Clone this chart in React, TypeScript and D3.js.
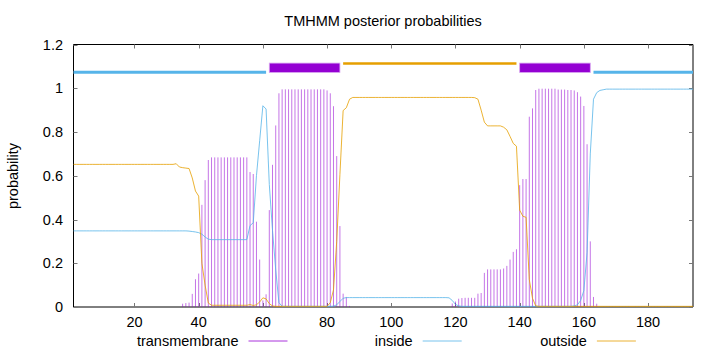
import React from 'react';
import * as d3 from 'd3';

// posterior probabilities per residue (1..194)
const tmProb = [
  0, 0, 0, 0, 0, 0, 0, 0, 0, 0,
  0, 0, 0, 0, 0, 0, 0, 0, 0, 0,
  0, 0, 0, 0, 0, 0, 0, 0, 0, 0,
  0, 0, 0, 0, 0.015, 0.018, 0.02, 0.06, 0.127, 0.153,
  0.467, 0.58, 0.672, 0.684, 0.684, 0.684, 0.684, 0.684, 0.684, 0.684,
  0.684, 0.684, 0.684, 0.684, 0.684, 0.617, 0.608, 0.39, 0.217, 0.03,
  0.058, 0.443, 0.65, 0.83, 0.977, 0.995, 0.995, 0.995, 0.995, 0.995,
  0.995, 0.995, 0.995, 0.995, 0.995, 0.995, 0.995, 0.995, 0.995, 0.99,
  0.977, 0.918, 0.69, 0.37, 0.061, 0.046, 0.005, 0, 0, 0,
  0, 0, 0, 0, 0, 0, 0, 0, 0, 0,
  0, 0, 0, 0, 0, 0, 0, 0, 0, 0,
  0, 0, 0, 0, 0, 0, 0, 0, 0.016, 0.025,
  0.038, 0.041, 0.042, 0.042, 0.042, 0.042, 0.061, 0.064, 0.156, 0.172,
  0.172, 0.172, 0.172, 0.172, 0.176, 0.188, 0.217, 0.252, 0.264, 0.557,
  0.585, 0.585, 0.87, 0.908, 0.992, 0.998, 0.998, 0.998, 0.998, 0.998,
  0.998, 0.994, 0.994, 0.994, 0.992, 0.992, 0.99, 0.982, 0.962, 0.919,
  0.744, 0.3, 0.046, 0.015, 0, 0, 0, 0, 0, 0,
  0, 0, 0, 0, 0, 0, 0, 0, 0, 0,
  0, 0, 0, 0, 0, 0, 0, 0, 0, 0,
  0, 0, 0, 0,
];

const insideProb = [
  0.348, 0.348, 0.348, 0.348, 0.348, 0.348, 0.348, 0.348, 0.348, 0.348,
  0.348, 0.348, 0.348, 0.348, 0.348, 0.348, 0.348, 0.348, 0.348, 0.348,
  0.348, 0.348, 0.348, 0.348, 0.348, 0.348, 0.348, 0.348, 0.348, 0.348,
  0.348, 0.348, 0.348, 0.348, 0.348, 0.348, 0.347, 0.345, 0.343, 0.34,
  0.333, 0.32, 0.31, 0.308, 0.308, 0.308, 0.308, 0.308, 0.308, 0.308,
  0.308, 0.308, 0.308, 0.308, 0.308, 0.372, 0.385, 0.6, 0.76, 0.92,
  0.905, 0.56, 0.35, 0.17, 0.02, 0.003, 0.003, 0.003, 0.003, 0.003,
  0.003, 0.003, 0.003, 0.003, 0.003, 0.003, 0.003, 0.003, 0.003, 0.003,
  0.003, 0.004, 0.01, 0.025, 0.04, 0.043, 0.043, 0.043, 0.043, 0.043,
  0.043, 0.043, 0.043, 0.043, 0.043, 0.043, 0.043, 0.043, 0.043, 0.043,
  0.043, 0.043, 0.043, 0.043, 0.043, 0.043, 0.043, 0.043, 0.043, 0.043,
  0.043, 0.043, 0.043, 0.043, 0.043, 0.043, 0.043, 0.042, 0.03, 0.012,
  0.005, 0.003, 0.003, 0.003, 0.003, 0.003, 0.003, 0.003, 0.003, 0.003,
  0.003, 0.003, 0.003, 0.003, 0.003, 0.003, 0.003, 0.003, 0.003, 0.003,
  0.003, 0.003, 0.003, 0.003, 0.003, 0.003, 0.003, 0.003, 0.003, 0.003,
  0.003, 0.003, 0.003, 0.003, 0.003, 0.003, 0.005, 0.01, 0.03, 0.075,
  0.25, 0.7, 0.95, 0.98, 0.99, 0.993, 0.996, 0.996, 0.996, 0.996,
  0.996, 0.996, 0.996, 0.996, 0.996, 0.996, 0.996, 0.996, 0.996, 0.996,
  0.996, 0.996, 0.996, 0.996, 0.996, 0.996, 0.996, 0.996, 0.996, 0.996,
  0.996, 0.996, 0.996, 0.996,
];

const outsideProb = [
  0.652, 0.652, 0.652, 0.652, 0.652, 0.652, 0.652, 0.652, 0.652, 0.652,
  0.652, 0.652, 0.652, 0.652, 0.652, 0.652, 0.652, 0.652, 0.652, 0.652,
  0.652, 0.652, 0.652, 0.652, 0.652, 0.652, 0.652, 0.652, 0.652, 0.652,
  0.652, 0.652, 0.655, 0.64, 0.637, 0.635, 0.633, 0.59, 0.53, 0.507,
  0.2, 0.1, 0.018, 0.008, 0.008, 0.008, 0.008, 0.008, 0.008, 0.008,
  0.008, 0.008, 0.008, 0.008, 0.008, 0.011, 0.007, 0.01, 0.023, 0.042,
  0.037, 0.015, 0.005, 0.003, 0.003, 0.003, 0.003, 0.003, 0.003, 0.003,
  0.003, 0.003, 0.003, 0.003, 0.003, 0.003, 0.003, 0.003, 0.003, 0.003,
  0.02, 0.078, 0.3, 0.605, 0.898, 0.911, 0.95, 0.958, 0.958, 0.958,
  0.958, 0.958, 0.958, 0.958, 0.958, 0.958, 0.958, 0.958, 0.958, 0.958,
  0.958, 0.958, 0.958, 0.958, 0.958, 0.958, 0.958, 0.958, 0.958, 0.958,
  0.958, 0.958, 0.958, 0.958, 0.958, 0.958, 0.958, 0.958, 0.958, 0.958,
  0.958, 0.958, 0.958, 0.958, 0.958, 0.957, 0.95, 0.9, 0.845, 0.828,
  0.828, 0.828, 0.828, 0.828, 0.822, 0.81, 0.78, 0.748, 0.735, 0.443,
  0.415, 0.41, 0.125, 0.04, 0.005, 0.003, 0.003, 0.003, 0.003, 0.003,
  0.003, 0.003, 0.003, 0.003, 0.003, 0.003, 0.003, 0.003, 0.003, 0.003,
  0.003, 0.003, 0.003, 0.003, 0.003, 0.003, 0.003, 0.003, 0.003, 0.003,
  0.003, 0.003, 0.003, 0.003, 0.003, 0.003, 0.003, 0.003, 0.003, 0.003,
  0.003, 0.003, 0.003, 0.003, 0.003, 0.003, 0.003, 0.003, 0.003, 0.003,
  0.003, 0.003, 0.003, 0.003,
];

// predicted topology, drawn as the bars above 1
const topology = [
  { kind: 'inside', start: 1, end: 61 },
  { kind: 'TMhelix', start: 62, end: 84 },
  { kind: 'outside', start: 85, end: 139 },
  { kind: 'TMhelix', start: 140, end: 162 },
  { kind: 'inside', start: 163, end: 194 },
];

const xTicks = [20, 40, 60, 80, 100, 120, 140, 160, 180];
const yTicks = [0, 0.2, 0.4, 0.6, 0.8, 1, 1.2];
const legendLabels = ['transmembrane', 'inside', 'outside'];

const TM_COLOR = '#9400d3';
const IN_COLOR = '#56b4e9';
const OUT_COLOR = '#e69f00';
const FONT = '"Liberation Sans", Arial, sans-serif';

const App = () => {
  const width = 720;
  const height = 352;
  const left = 73.5, right = 693, top = 44.5, bottom = 307;

  const x = d3.scaleLinear().domain([1, tmProb.length]).range([left, right]);
  const y = d3.scaleLinear().domain([0, 1.2]).range([bottom, top]);

  const line = d3.line<number>()
    .x((d, i) => x(i + 1))
    .y(d => y(d));

  const legendColors = [TM_COLOR, IN_COLOR, OUT_COLOR];

  return (
    <svg
      width={width}
      height={height}
      style={{ position: 'absolute', left: 0, top: 0, background: '#fff' }}
      fontFamily={FONT}
      fontSize={14.5}
    >
      <text x={383} y={26} textAnchor="middle" fill="#000">TMHMM posterior probabilities</text>

      {/* frame */}
      <line x1={left} x2={left} y1={top} y2={bottom} stroke="#000" />
      <line x1={left} x2={right} y1={top} y2={top} stroke="#000" />
      <line x1={right} x2={right} y1={top} y2={bottom} stroke="#000" />
      <line x1={left} x2={right} y1={bottom} y2={bottom} stroke="#000" />

      {/* ticks, mirrored */}
      {xTicks.map(t => (
        <g key={'x' + t}>
          <line x1={Math.round(x(t)) + 0.5} x2={Math.round(x(t)) + 0.5} y1={bottom} y2={bottom - 4} stroke="#777" />
          <line x1={Math.round(x(t)) + 0.5} x2={Math.round(x(t)) + 0.5} y1={top} y2={top + 4} stroke="#777" />
          <text x={x(t)} y={327} textAnchor="middle" fill="#000">{t}</text>
        </g>
      ))}
      {yTicks.map(t => (
        <g key={'y' + t}>
          <line x1={left} x2={left + 4} y1={Math.round(y(t)) + 0.5} y2={Math.round(y(t)) + 0.5} stroke="#777" />
          <line x1={right} x2={right - 4} y1={Math.round(y(t)) + 0.5} y2={Math.round(y(t)) + 0.5} stroke="#777" />
          <text x={63} y={y(t) + 5} textAnchor="end" fill="#000">{String(t)}</text>
        </g>
      ))}

      <text transform="translate(17.5,176) rotate(-90)" textAnchor="middle" fill="#000">probability</text>

      {/* topology bars */}
      {topology.map((s, i) => {
        if (s.kind === 'TMhelix') {
          return (
            <rect key={i} x={x(s.start)} width={x(s.end) - x(s.start)}
              y={y(1.115)} height={y(1.072) - y(1.115)}
              fill={TM_COLOR} stroke="#d9a6f0" strokeWidth={0.8} />
          );
        }
        const yy = s.kind === 'inside' ? y(1.073) : y(1.113);
        return (
          <line key={i} x1={x(s.start)} x2={x(s.end)} y1={yy} y2={yy}
            stroke={s.kind === 'inside' ? IN_COLOR : OUT_COLOR} strokeWidth={s.kind === 'inside' ? 3 : 2.6} />
        );
      })}

      {/* transmembrane impulses */}
      {tmProb.map((p, i) => p > 0 ? (
        <line key={'tm' + i} x1={x(i + 1)} x2={x(i + 1)} y1={y(0)} y2={y(p)}
          stroke={TM_COLOR} strokeWidth={0.55} />
      ) : null)}

      <path d={line(insideProb) || ''} fill="none" stroke={IN_COLOR} strokeWidth={0.8} />
      <path d={line(outsideProb) || ''} fill="none" stroke={OUT_COLOR} strokeWidth={0.8} />

      {/* key */}
      {legendLabels.map((label, i) => {
        const textEnd = 238.5 + i * 174.2;
        return (
          <g key={label}>
            <text x={textEnd} y={346} textAnchor="end" fill="#000">{label}</text>
            <line x1={textEnd + 10} x2={textEnd + 49} y1={341} y2={341}
              stroke={legendColors[i]} strokeWidth={0.8} />
          </g>
        );
      })}
    </svg>
  );
};

export default App;
